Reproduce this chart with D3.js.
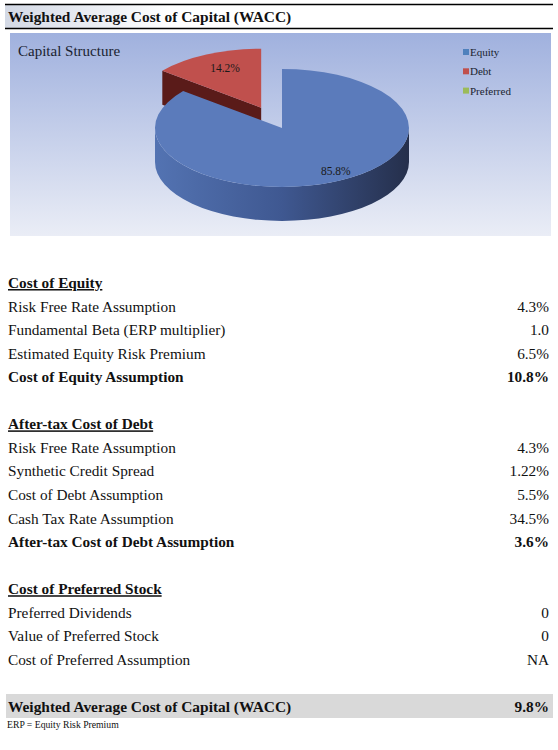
<!DOCTYPE html>
<html>
<head>
<meta charset="utf-8">
<script src="https://cdn.jsdelivr.net/npm/d3@7"></script>
<style>
  body { margin: 0; background: #fff; }
  svg text { font-family: "Liberation Serif", "Times New Roman", serif; }
</style>
</head>
<body>
<div id="svgContainer"></div>
<script>
// chart data
var pieNames = ["Equity", "Debt", "Preferred"];
var pieValues = [85.8, 14.2, 0];
var pieLabels = ["85.8%", "14.2%", ""];

var equityLabels = ["Risk Free Rate Assumption", "Fundamental Beta (ERP multiplier)", "Estimated Equity Risk Premium", "Cost of Equity Assumption"];
var equityValues = ["4.3%", "1.0", "6.5%", "10.8%"];

var debtLabels = ["Risk Free Rate Assumption", "Synthetic Credit Spread", "Cost of Debt Assumption", "Cash Tax Rate Assumption", "After-tax Cost of Debt Assumption"];
var debtValues = ["4.3%", "1.22%", "5.5%", "34.5%", "3.6%"];

var prefLabels = ["Preferred Dividends", "Value of Preferred Stock", "Cost of Preferred Assumption"];
var prefValues = ["0", "0", "NA"];

var sectionTitles = ["Cost of Equity", "After-tax Cost of Debt", "Cost of Preferred Stock"];
var waccLabel = "Weighted Average Cost of Capital (WACC)";
var waccValue = "9.8%";
var footNote = "ERP = Equity Risk Premium";

// layout
var width = 558, height = 750;
var pieColors = {Equity: "#5b7bbb", Debt: "#c0504d", Preferred: "#9bbb59"};
var legendColors = {Equity: "#4f81bd", Debt: "#c0504d", Preferred: "#9bbb59"};
var cx = 282, cy = 128, rx = 127, ry = 59, depth = 34;
var explode = {Debt: 0.38};
var labelRadius = {Equity: 0.8, Debt: 0.75};

var svg = d3.select("#svgContainer")
    .append("svg")
    .attr("width", width)
    .attr("height", height);

var defs = svg.append("defs");

var hdrGrad = defs.append("linearGradient").attr("id", "hdrGrad")
    .attr("x1", 0).attr("x2", 1).attr("y1", 0).attr("y2", 0);
hdrGrad.append("stop").attr("offset", "0").attr("stop-color", "#d3d9e5");
hdrGrad.append("stop").attr("offset", "0.3").attr("stop-color", "#ffffff");

var bgGrad = defs.append("linearGradient").attr("id", "bgGrad")
    .attr("x1", 0).attr("x2", 0).attr("y1", 0).attr("y2", 1);
bgGrad.append("stop").attr("offset", "0").attr("stop-color", "#a0b1de");
bgGrad.append("stop").attr("offset", "1").attr("stop-color", "#eaedf6");

var wallGrad = defs.append("linearGradient").attr("id", "wallGrad")
    .attr("gradientUnits", "userSpaceOnUse")
    .attr("x1", cx - rx).attr("x2", cx + rx).attr("y1", 0).attr("y2", 0);
wallGrad.append("stop").attr("offset", "0").attr("stop-color", "#5373b2");
wallGrad.append("stop").attr("offset", "0.5").attr("stop-color", "#3f5891");
wallGrad.append("stop").attr("offset", "1").attr("stop-color", "#252f4b");

// header
svg.append("rect").attr("x", 5).attr("y", 5).attr("width", 548).attr("height", 23).attr("fill", "url(#hdrGrad)");
svg.append("line").attr("x1", 5).attr("x2", 553).attr("y1", 4.5).attr("y2", 4.5).attr("stroke", "#000").attr("stroke-width", 1.3);
svg.append("line").attr("x1", 5).attr("x2", 553).attr("y1", 28.5).attr("y2", 28.5).attr("stroke", "#000").attr("stroke-width", 1.3);
svg.append("text").text(waccLabel)
    .attr("x", 8).attr("y", 22)
    .style("font-size", "15.4px").style("font-weight", "bold").style("fill", "#111");

// chart area
svg.append("rect").attr("x", 10).attr("y", 33).attr("width", 541).attr("height", 203)
    .attr("fill", "url(#bgGrad)");

svg.append("text").text("Capital Structure")
    .attr("x", 18).attr("y", 56)
    .style("font-size", "15px").style("fill", "#1a1f30");

// legend
var legend = svg.append("g").selectAll("g")
    .data(pieNames)
    .enter()
    .append("g")
    .attr("transform", function (d, i) { return "translate(463," + (52 + i * 19.3) + ")"; });
legend.append("rect").attr("x", 0).attr("y", -3).attr("width", 6).attr("height", 6)
    .attr("fill", function (d) { return legendColors[d]; });
legend.append("text").text(function (d) { return d; })
    .attr("x", 7).attr("y", 4)
    .style("font-size", "11px").style("fill", "#1a1f30");

// 3d pie
var arcs = d3.pie().sort(null).value(function (d) { return d; })(pieValues);
arcs.forEach(function (a, i) {
    a.name = pieNames[i];
    a.label = pieLabels[i];
    a.mid = (a.startAngle + a.endAngle) / 2;
    var e = explode[a.name] || 0;
    a.ox = cx + e * rx * Math.sin(a.mid);
    a.oy = cy - e * ry * Math.cos(a.mid);
});
arcs = arcs.filter(function (a) { return a.value > 0; });

function pt(a, ang, dz, r) {
    r = r == null ? 1 : r;
    return [a.ox + r * rx * Math.sin(ang), a.oy - r * ry * Math.cos(ang) + (dz || 0)];
}

function topPath(a) {
    var p0 = pt(a, a.startAngle), p1 = pt(a, a.endAngle);
    var large = (a.endAngle - a.startAngle) > Math.PI ? 1 : 0;
    return "M" + a.ox + "," + a.oy + "L" + p0 + "A" + rx + "," + ry + " 0 " + large + " 1 " + p1 + "Z";
}

function wallPath(a) {
    var s = Math.max(a.startAngle, Math.PI / 2), e = Math.min(a.endAngle, 3 * Math.PI / 2);
    if (e <= s) return null;
    var p0 = pt(a, s), p1 = pt(a, e), q1 = pt(a, e, depth), q0 = pt(a, s, depth);
    return "M" + p0 + "A" + rx + "," + ry + " 0 0 1 " + p1 + "L" + q1 + "A" + rx + "," + ry + " 0 0 0 " + q0 + "Z";
}

function cutPath(a, ang) {
    var p = pt(a, ang);
    return "M" + a.ox + "," + a.oy + "L" + p + "L" + [p[0], p[1] + depth] + "L" + a.ox + "," + (a.oy + depth) + "Z";
}

var pieG = svg.append("g");

// back slices first (exploded debt), then equity in front
var order = arcs.slice().sort(function (a, b) { return a.oy - b.oy; });
order.forEach(function (a) {
    var g = pieG.append("g");
    var cutCol = a.name == "Debt" ? "#5a1b19" : "#33446e";
    // start cut face is visible when the slice starts on the upper left
    if (Math.cos(a.startAngle) > 0 && Math.sin(a.startAngle) < 0) {
        g.append("path").attr("d", cutPath(a, a.startAngle)).attr("fill", cutCol);
    }
    var w = wallPath(a);
    if (w) g.append("path").attr("d", w).attr("fill", a.name == "Equity" ? "url(#wallGrad)" : "#7a2826");
    g.append("path").attr("d", topPath(a)).attr("fill", pieColors[a.name]);
});

// slice labels
pieG.selectAll(".PieLabel")
    .data(arcs)
    .enter()
    .append("text")
    .attr("class", "PieLabel")
    .text(function (a) { return a.label; })
    .attr("x", function (a) { return pt(a, a.mid, 0, labelRadius[a.name])[0] + (a.name == "Equity" ? 10 : 5); })
    .attr("y", function (a) { return pt(a, a.mid, 0, labelRadius[a.name])[1]; })
    .attr("dy", "0.35em")
    .attr("text-anchor", "middle")
    .style("font-size", "11.5px")
    .style("fill", "#1a1a1a");

// table rows
var rows = [];
[[equityLabels, equityValues, true], [debtLabels, debtValues, true], [prefLabels, prefValues, false]].forEach(function (sec, s) {
    rows.push({type: "head", label: sectionTitles[s]});
    sec[0].forEach(function (l, i) {
        rows.push({type: "row", label: l, value: sec[1][i], bold: sec[2] && i == sec[0].length - 1});
    });
    rows.push({type: "blank"});
});
rows.push({type: "total", label: waccLabel, value: waccValue});
rows.forEach(function (d, i) { d.idx = i; });

var rowY = d3.scaleLinear().domain([0, rows.length - 1]).range([283, 707]);

svg.append("rect").attr("x", 6).attr("y", rowY(rows.length - 1) - 13).attr("width", 547).attr("height", 24)
    .attr("fill", "#d9d9d9");

var rowG = svg.append("g").selectAll("g")
    .data(rows.filter(function (d) { return d.type != "blank"; }))
    .enter()
    .append("g")
    .attr("transform", function (d) { return "translate(0," + (rowY(d.idx) + 5) + ")"; });

rowG.append("text")
    .text(function (d) { return d.label; })
    .attr("x", 8)
    .style("font-size", function (d) { return d.type == "total" ? "15.4px" : "15.3px"; })
    .style("font-weight", function (d) { return d.type == "row" && !d.bold ? "normal" : "bold"; })
    .style("text-decoration", function (d) { return d.type == "head" ? "underline" : "none"; })
    .style("fill", "#111");

rowG.filter(function (d) { return d.value != null; })
    .append("text")
    .text(function (d) { return d.value; })
    .attr("x", 549)
    .attr("text-anchor", "end")
    .style("font-size", "15.3px")
    .style("font-weight", function (d) { return d.type == "row" && !d.bold ? "normal" : "bold"; })
    .style("fill", "#111");

svg.append("text").text(footNote)
    .attr("x", 7).attr("y", 728)
    .style("font-size", "9.7px").style("fill", "#111");
</script>
</body>
</html>
